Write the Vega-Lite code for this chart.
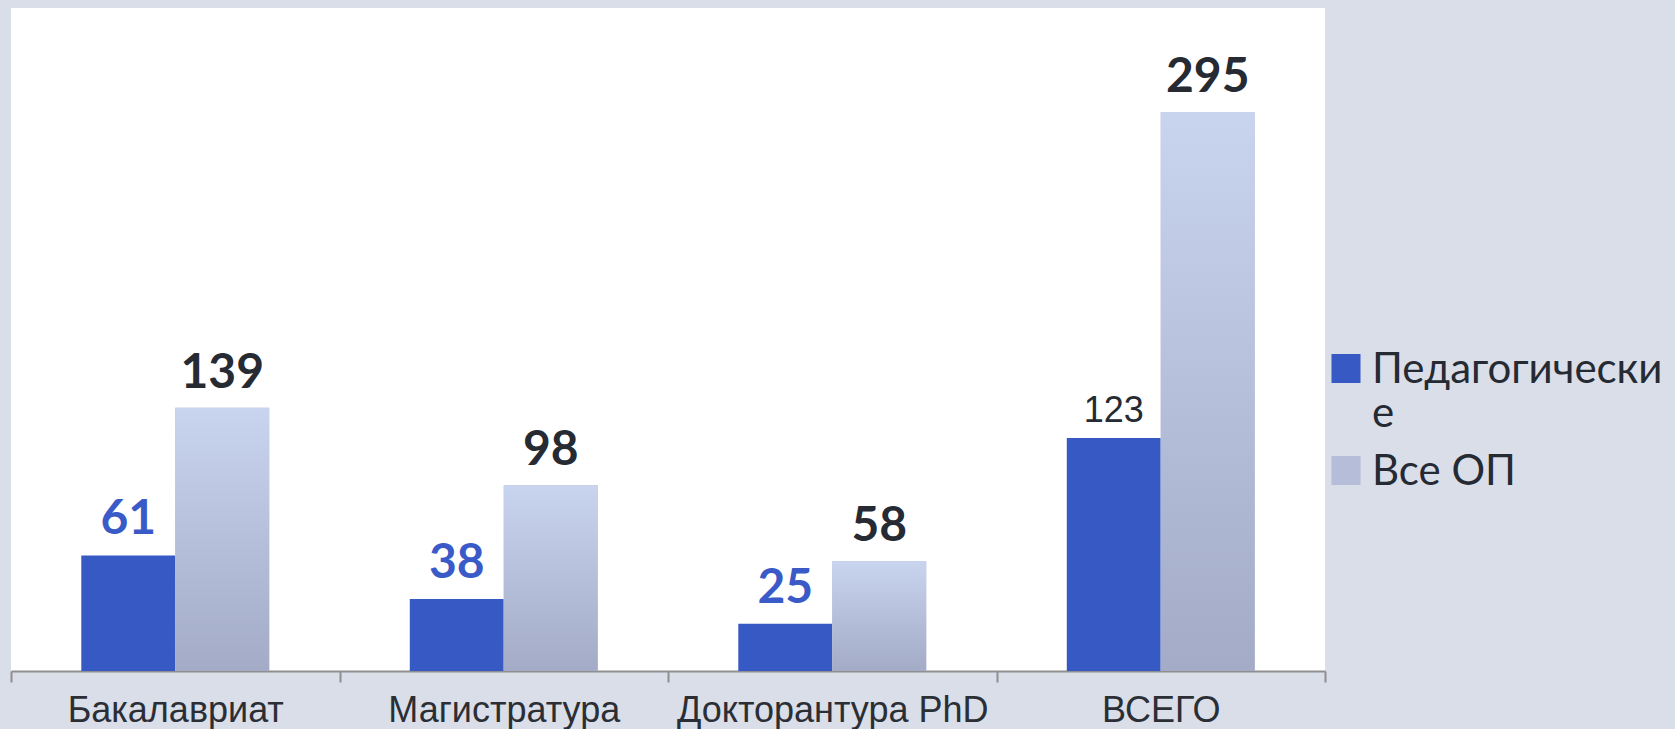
{
  "$schema": "https://vega.github.io/schema/vega-lite/v6.json",
  "width": 1314,
  "height": 663,
  "autosize": {"type": "none"},
  "padding": {"left": 11, "top": 8, "right": 350, "bottom": 58},
  "background": "#d9dee9",
  "config": {"view": {"fill": "white", "stroke": null}},
  "data": {
    "values": [
      {"category": "Бакалавриат", "series": "Педагогические", "value": 61},
      {"category": "Бакалавриат", "series": "Все ОП", "value": 139},
      {"category": "Магистратура", "series": "Педагогические", "value": 38},
      {"category": "Магистратура", "series": "Все ОП", "value": 98},
      {"category": "Докторантура PhD", "series": "Педагогические", "value": 25},
      {"category": "Докторантура PhD", "series": "Все ОП", "value": 58},
      {"category": "ВСЕГО", "series": "Педагогические", "value": 123},
      {"category": "ВСЕГО", "series": "Все ОП", "value": 295}
    ]
  },
  "encoding": {
    "x": {
      "field": "category", "type": "nominal", "sort": null,
      "scale": {"paddingInner": 0, "paddingOuter": 0},
      "axis": {
        "title": null, "labelAngle": 0, "tickBand": "extent",
        "domainColor": "#8f8f8f", "domainWidth": 2,
        "tickColor": "#8f8f8f", "tickWidth": 2, "tickSize": 11,
        "labelFont": "Liberation Sans", "labelFontSize": 36, "labelColor": "#2b2e35",
        "labelPadding": 11, "labelLimit": 0
      }
    },
    "xOffset": {
      "field": "series", "type": "nominal",
      "scale": {"domain": ["Педагогические", "Все ОП"], "paddingInner": 0, "paddingOuter": 0.748}
    },
    "y": {
      "field": "value", "type": "quantitative",
      "scale": {"domain": [0, 350], "nice": false},
      "axis": null
    }
  },
  "layer": [
    {
      "mark": {"type": "bar"},
      "encoding": {
        "color": {
          "field": "series", "type": "nominal",
          "scale": {"domain": ["Педагогические", "Все ОП"], "range": ["#3759c4", "#b5bdd8"]},
          "legend": {
            "title": null, "orient": "none", "legendX": 1314, "legendY": 354,
            "direction": "vertical",
            "symbolType": "M-1,-2H1V0H-1Z", "symbolSize": 841, "symbolStrokeWidth": 0,
            "symbolOpacity": 1,
            "labelFont": "Lato", "labelFontSize": 42, "labelColor": "#262a33",
            "labelBaseline": "alphabetic", "labelOffset": 5, "labelLimit": 0,
            "rowPadding": 16,
            "labelExpr": "datum.label == 'Педагогические' ? ['Педагогически', 'е'] : datum.label"
          }
        }
      }
    },
    {
      "transform": [{"filter": "datum.series == 'Все ОП'"}],
      "mark": {
        "type": "bar",
        "fill": {
          "gradient": "linear", "x1": 0, "y1": 0, "x2": 0, "y2": 1,
          "stops": [{"offset": 0, "color": "#c9d4ef"}, {"offset": 1, "color": "#a3abc6"}]
        }
      },
      "encoding": {}
    },
    {
      "transform": [{"filter": "datum.series == 'Все ОП'"}],
      "mark": {"type": "text", "font": "Lato", "fontWeight": "bold", "fontSize": 48, "color": "#262a33", "baseline": "alphabetic", "dy": -20},
      "encoding": {"text": {"field": "value", "type": "quantitative"}}
    },
    {
      "transform": [{"filter": "datum.series == 'Педагогические' && datum.category != 'ВСЕГО'"}],
      "mark": {"type": "text", "font": "Lato", "fontWeight": "bold", "fontSize": 48, "color": "#3a5bc7", "baseline": "alphabetic", "dy": -21},
      "encoding": {"text": {"field": "value", "type": "quantitative"}}
    },
    {
      "transform": [{"filter": "datum.series == 'Педагогические' && datum.category == 'ВСЕГО'"}],
      "mark": {"type": "text", "font": "Liberation Sans", "fontSize": 36, "color": "#262a33", "baseline": "alphabetic", "dy": -16},
      "encoding": {"text": {"field": "value", "type": "quantitative"}}
    }
  ]
}
